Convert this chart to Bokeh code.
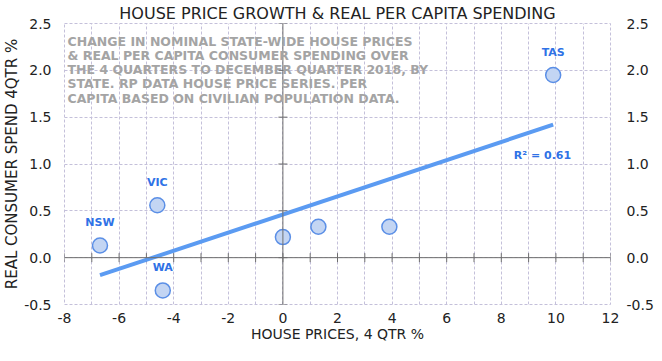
import numpy as np
from bokeh.plotting import figure
from bokeh.models import (ColumnDataSource, LinearAxis, Range1d, Label, Span,
                          SingleIntervalTicker, FixedTicker, LabelSet,
                          PrintfTickFormatter)
from bokeh.core.properties import value
from bokeh.embed import file_html
from bokeh.resources import INLINE

# ---- data ----
states = ["NSW", "VIC", "WA", "", "", "", "TAS"]
house_prices = [-6.7, -4.6, -4.4, 0.0, 1.3, 3.9, 9.9]
consumer_spend = [0.13, 0.56, -0.35, 0.22, 0.33, 0.33, 1.95]
x_ticks = [-8, -6, -4, -2, 0, 2, 4, 6, 8, 10, 12]
y_ticks = [-0.5, 0.0, 0.5, 1.0, 1.5, 2.0, 2.5]
x_minor_ticks = list(range(-8, 13))

title_text = "HOUSE PRICE GROWTH & REAL PER CAPITA SPENDING"
note_text = ("CHANGE IN NOMINAL STATE-WIDE  HOUSE PRICES\n"
             "& REAL PER CAPITA CONSUMER SPENDING OVER\n"
             "THE 4 QUARTERS TO DECEMBER QUARTER 2018, BY\n"
             "STATE.  RP DATA HOUSE PRICE SERIES.  PER\n"
             "CAPITA BASED ON CIVILIAN POPULATION DATA.")

FONT = "DejaVu Sans"
BLUE_TXT = "#2f72e6"
LINE_BLUE = "#5b9bf2"
GRID = "#c4c0da"
AXIS = "#6e6e6e"
X_MIN, X_MAX = x_ticks[0], x_ticks[-1]

p = figure(frame_width=546, frame_height=281, output_backend="svg",
           toolbar_location=None,
           x_range=Range1d(X_MIN, X_MAX), y_range=Range1d(y_ticks[0], y_ticks[-1]),
           min_border_left=0, min_border_right=0, min_border_top=0,
           min_border_bottom=0, title=title_text)
p.title.text_font = FONT
p.title.text_font_size = "16px"
p.title.text_font_style = "normal"
p.title.text_color = "#222222"
p.title.align = "center"
p.title.offset = 0
p.title.standoff = 2

p.outline_line_color = GRID
p.outline_line_dash = "3 2"
p.outline_line_width = 1

# grid
p.xgrid[0].ticker = SingleIntervalTicker(interval=1)
p.ygrid[0].ticker = SingleIntervalTicker(interval=0.5)
for g in (p.xgrid[0], p.ygrid[0]):
    g.grid_line_color = GRID
    g.grid_line_dash = "3 2"
    g.grid_line_width = 1
    g.grid_line_alpha = 1.0

ry = LinearAxis(ticker=FixedTicker(ticks=y_ticks),
                formatter=PrintfTickFormatter(format="%.1f"))
p.add_layout(ry, "right")

# tick-label axes
for ax in (p.xaxis[0], p.yaxis[0], ry):
    ax.axis_line_color = None
    ax.major_tick_line_color = None
    ax.minor_tick_line_color = None
    ax.major_tick_out = 0
    ax.major_tick_in = 0
    ax.minor_tick_out = 0
    ax.minor_tick_in = 0
    ax.axis_label_standoff = 0
    ax.major_label_text_font = FONT
    ax.major_label_text_font_size = "14px"
    ax.major_label_text_color = "#222222"
    ax.axis_label_text_font = FONT
    ax.axis_label_text_font_size = "15px"
    ax.axis_label_text_font_style = "normal"
    ax.axis_label_text_color = "#222222"

p.xaxis[0].ticker = FixedTicker(ticks=x_ticks)
p.xaxis[0].formatter = PrintfTickFormatter(format="%d")
p.xaxis[0].axis_label = "HOUSE PRICES, 4 QTR %"
p.xaxis[0].axis_label_text_font_size = "14px"
p.xaxis[0].major_label_standoff = 8
p.yaxis[0].ticker = FixedTicker(ticks=y_ticks)
p.yaxis[0].formatter = PrintfTickFormatter(format="%.1f")
p.yaxis[0].axis_label = "REAL CONSUMER SPEND 4QTR %"
p.yaxis[0].major_label_standoff = 13
ry.major_label_standoff = 16

# zero axes with crossing ticks
p.add_layout(Span(location=0, dimension="width", line_color=AXIS, line_width=1))
p.add_layout(Span(location=0, dimension="height", line_color=AXIS, line_width=1))
p.scatter(x_minor_ticks, [0] * len(x_minor_ticks), marker="dash", angle=np.pi / 2,
          size=9, line_color=AXIS, line_width=1)
p.scatter([0] * len(y_ticks), y_ticks, marker="dash", size=9,
          line_color=AXIS, line_width=1)

# regression line
coef = np.polyfit(house_prices, consumer_spend, 1)
xs = np.array([min(house_prices), max(house_prices)])
ys = np.polyval(coef, xs)
pred = np.polyval(coef, house_prices)
yy = np.array(consumer_spend)
r2 = 1 - np.sum((yy - pred) ** 2) / np.sum((yy - yy.mean()) ** 2)
p.line(xs, ys, line_color=LINE_BLUE, line_width=4)

src = ColumnDataSource(dict(x=house_prices, y=consumer_spend, s=states))
p.scatter("x", "y", source=src, size=15, fill_color="#c3d5f3",
          line_color="#5b8fe6", line_width=1.5)
p.add_layout(LabelSet(x="x", y="y", text="s", source=src, y_offset=16,
                      text_align="center", text_baseline="bottom",
                      text_font=value(FONT), text_font_size="11px",
                      text_font_style="bold", text_color=BLUE_TXT))

p.add_layout(Label(x=xs[1], y=ys[1], x_offset=18, y_offset=-31,
                   text=f"R² = {r2:.2f}", text_align="right", text_baseline="middle",
                   text_font=FONT, text_font_size="11px", text_font_style="bold",
                   text_color=BLUE_TXT))

p.add_layout(Label(x=X_MIN, y=y_ticks[-1], x_offset=3, y_offset=-10, text=note_text,
                   text_align="left", text_baseline="top", text_font=FONT,
                   text_font_size="12.5px", text_font_style="bold",
                   text_color="#a4a4a4", text_line_height=0.95))

open("out.html", "w").write(file_html(p, INLINE))
